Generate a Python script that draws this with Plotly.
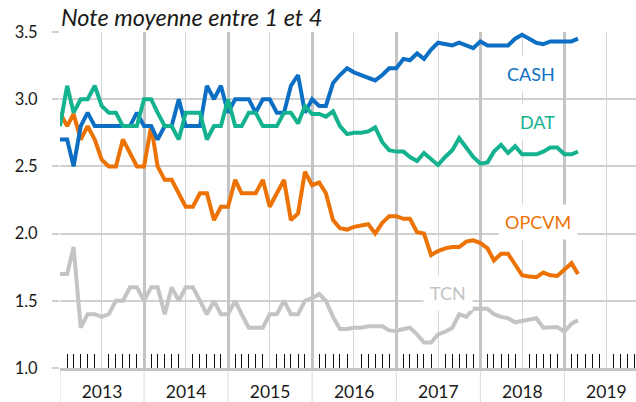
import pandas as pd
import plotly.graph_objects as go

dates = pd.date_range(start="2013-01-01", periods=75, freq="MS")

cash = [2.7, 2.7, 2.5, 2.8, 2.9, 2.8, 2.8, 2.8, 2.8, 2.8, 2.8, 2.9,
        2.8, 2.8, 2.7, 2.8, 2.8, 3.0, 2.8, 2.8, 2.8, 3.1, 3.0, 3.1,
        2.9, 3.0, 3.0, 3.0, 2.9, 3.0, 3.0, 2.9, 2.9, 3.1, 3.18, 2.9,
        3.0, 2.95, 2.95, 3.12, 3.18, 3.23, 3.20, 3.18, 3.16, 3.14, 3.18, 3.23,
        3.23, 3.30, 3.29, 3.34, 3.30, 3.37, 3.42, 3.41, 3.40, 3.42, 3.40, 3.38,
        3.43, 3.40, 3.40, 3.40, 3.40, 3.45, 3.48, 3.45, 3.42, 3.41, 3.43, 3.43,
        3.43, 3.43, 3.45]

dat = [2.8, 3.1, 2.9, 3.0, 3.0, 3.1, 2.95, 2.9, 2.9, 2.8, 2.8, 2.8,
       3.0, 3.0, 2.9, 2.8, 2.8, 2.7, 2.9, 2.9, 2.9, 2.7, 2.8, 2.8,
       3.0, 2.8, 2.8, 2.9, 2.9, 2.8, 2.8, 2.8, 2.9, 2.9, 2.82, 2.95,
       2.89, 2.89, 2.87, 2.91, 2.80, 2.74, 2.75, 2.75, 2.76, 2.79, 2.68, 2.62,
       2.61, 2.61, 2.57, 2.54, 2.60, 2.55, 2.51, 2.57, 2.62, 2.71, 2.64, 2.57,
       2.52, 2.53, 2.61, 2.66, 2.60, 2.65, 2.59, 2.59, 2.59, 2.61, 2.64, 2.64,
       2.59, 2.59, 2.61]

opcvm = [2.9, 2.8, 2.89, 2.7, 2.8, 2.7, 2.55, 2.5, 2.5, 2.7, 2.6, 2.5,
         2.5, 2.8, 2.5, 2.4, 2.4, 2.3, 2.2, 2.2, 2.3, 2.3, 2.1, 2.2,
         2.2, 2.4, 2.3, 2.3, 2.3, 2.4, 2.2, 2.3, 2.4, 2.1, 2.15, 2.46,
         2.36, 2.38, 2.30, 2.10, 2.04, 2.03, 2.05, 2.06, 2.07, 2.00, 2.08, 2.13,
         2.13, 2.11, 2.11, 2.01, 2.00, 1.84, 1.87, 1.89, 1.90, 1.90, 1.94, 1.95,
         1.93, 1.89, 1.80, 1.85, 1.85, 1.77, 1.69, 1.68, 1.675, 1.71, 1.69, 1.685,
         1.73, 1.78, 1.70]

tcn = [1.7, 1.7, 1.9, 1.3, 1.4, 1.4, 1.38, 1.4, 1.5, 1.5, 1.6, 1.6,
       1.5, 1.6, 1.6, 1.4, 1.6, 1.5, 1.6, 1.6, 1.5, 1.4, 1.5, 1.4,
       1.4, 1.5, 1.4, 1.3, 1.3, 1.3, 1.4, 1.4, 1.5, 1.4, 1.4, 1.5,
       1.52, 1.55, 1.50, 1.38, 1.29, 1.29, 1.30, 1.30, 1.31, 1.31, 1.31, 1.28,
       1.275, 1.29, 1.30, 1.25, 1.19, 1.19, 1.25, 1.27, 1.30, 1.40, 1.38, 1.44,
       1.44, 1.44, 1.40, 1.38, 1.37, 1.34, 1.35, 1.36, 1.37, 1.30, 1.305, 1.305,
       1.27, 1.33, 1.355]

years = ["2013", "2014", "2015", "2016", "2017", "2018", "2019", "2020"]
y_ticks = [1.0, 1.5, 2.0, 2.5, 3.0, 3.5]

FONT = "Lato"
series = [
    ("TCN", tcn, "#c4c4c4", "2017-08-12", 1.56),
    ("OPCVM", opcvm, "#ec7204", "2018-09-10", 2.09),
    ("CASH", cash, "#0d6fc4", "2018-08-10", 3.19),
    ("DAT", dat, "#14b28f", "2018-09-05", 2.83),
]

fig = go.Figure()
for name, vals, col, lx, ly in series:
    fig.add_trace(go.Scatter(x=dates, y=vals, mode="lines", name=name,
                             line=dict(color=col, width=4), showlegend=False))
    fig.add_annotation(x=lx, y=ly, xref="x", yref="y", text=name, showarrow=False,
                       font=dict(family=FONT, size=18, color=col),
                       bgcolor="white", borderpad=6)

# year separators below axis
for yr in years[:-1]:
    fig.add_shape(type="line", xref="x", yref="paper", x0=yr + "-01-01", x1=yr + "-01-01",
                  y0=0, y1=-0.11, line=dict(color="#d9d9d9", width=1), layer="below")

xrange = ["2013-01-01", "2019-11-08"]

fig.update_layout(
    width=636, height=402,
    margin=dict(l=60, r=0, t=32, b=34, autoexpand=False),
    plot_bgcolor="white", paper_bgcolor="white",
    font=dict(family=FONT, color="#1a1a1a"),
    xaxis=dict(
        type="date", range=xrange, tick0="2013-01-01", dtick="M6",
        showgrid=True, gridcolor="#d6d6d6", gridwidth=1, automargin=False,
        showticklabels=False, ticks="", zeroline=False,
        showline=True, linecolor="#c4c4c4", linewidth=2.5,
        minor=dict(dtick="M1", tick0="2013-01-01", ticks="inside", ticklen=14,
                   tickcolor="#111111", tickwidth=1, showgrid=False),
    ),
    xaxis2=dict(
        type="date", range=xrange, overlaying="x", anchor="y", side="bottom",
        tick0="2013-01-01", dtick="M12", ticklabelmode="period", tickformat="%Y",
        showgrid=True, gridcolor="#c4c4c4", gridwidth=3, ticks="", automargin=False,
        ticklabelstandoff=11, tickfont=dict(size=17.5, color="#1a1a1a"),
        zeroline=False, showline=False,
    ),
    yaxis=dict(
        range=[1.0, 3.5], tickvals=y_ticks, tickformat=".1f", automargin=False,
        showgrid=True, gridcolor="#d0d0d0", gridwidth=1.5,
        ticks="outside", ticklen=7, tickcolor="#d0d0d0", tickwidth=1.5,
        ticklabelstandoff=11, tickfont=dict(size=16.5, color="#1a1a1a"),
        zeroline=False, showline=False,
    ),
)

# dummy trace to activate xaxis2
fig.add_trace(go.Scatter(x=[dates[0]], y=[None], xaxis="x2", yaxis="y",
                         showlegend=False, hoverinfo="skip"))

fig.add_annotation(xref="paper", yref="paper", x=0, y=1, xanchor="left", yanchor="bottom",
                   xshift=-1, yshift=-1, showarrow=False,
                   text="<i>Note moyenne entre 1 et 4</i>",
                   font=dict(family=FONT, size=23.5, color="#1a1a1a"))

fig.write_html("out.html", config={"displayModeBar": False},
               post_script="document.body.style.margin='0px';")
